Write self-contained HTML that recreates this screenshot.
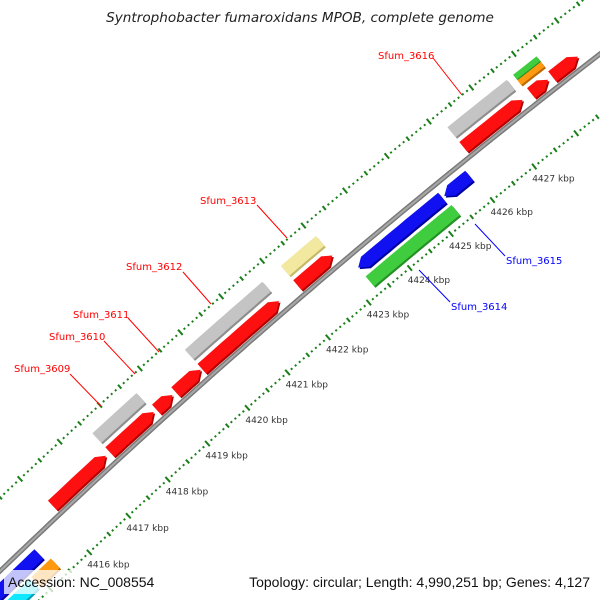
<!DOCTYPE html>
<html><head><meta charset="utf-8"><style>
html,body{margin:0;padding:0;background:#fff;width:600px;height:600px;overflow:hidden;}
svg{display:block;font-family:"DejaVu Sans","Liberation Sans",sans-serif;overflow:hidden;}
</style></head><body>
<svg id="map" width="600" height="600" viewBox="0 0 600 600" xmlns="http://www.w3.org/2000/svg">
<g id="ticks"></g>
<g id="backbone"></g>
<g id="genes"></g>
<g id="callouts">
<line x1="433" y1="58" x2="462" y2="95" stroke="#f00" stroke-width="1"/>
<text x="378" y="59" font-size="10" fill="#f00">Sfum_3616</text>
<line x1="257" y1="205" x2="287" y2="238" stroke="#f00" stroke-width="1"/>
<text x="200" y="204" font-size="10" fill="#f00">Sfum_3613</text>
<line x1="183" y1="272" x2="211" y2="304" stroke="#f00" stroke-width="1"/>
<text x="126" y="270" font-size="10" fill="#f00">Sfum_3612</text>
<line x1="128" y1="318" x2="159" y2="352" stroke="#f00" stroke-width="1"/>
<text x="73" y="318" font-size="10" fill="#f00">Sfum_3611</text>
<line x1="104" y1="341" x2="135" y2="374" stroke="#f00" stroke-width="1"/>
<text x="49" y="340" font-size="10" fill="#f00">Sfum_3610</text>
<line x1="70" y1="374" x2="101" y2="406" stroke="#f00" stroke-width="1"/>
<text x="14" y="372" font-size="10" fill="#f00">Sfum_3609</text>
<line x1="475" y1="224" x2="505" y2="256" stroke="#00f" stroke-width="1"/>
<text x="506" y="264" font-size="10" fill="#00f">Sfum_3615</text>
<line x1="419" y1="270" x2="450" y2="302" stroke="#00f" stroke-width="1"/>
<text x="451" y="310" font-size="10" fill="#00f">Sfum_3614</text>
</g>
<text x="300" y="22" font-size="13.6" font-style="italic" text-anchor="middle" fill="#222">Syntrophobacter fumaroxidans MPOB, complete genome</text>
<rect x="4" y="570" width="142" height="24" fill="#fff" fill-opacity="0.75"/>
<text x="8" y="587" font-size="14" fill="#111" font-family="Liberation Sans, sans-serif">Accession: NC_008554</text>
<text x="590" y="587" font-size="14" fill="#111" text-anchor="end" font-family="Liberation Sans, sans-serif">Topology: circular; Length: 4,990,251 bp; Genes: 4,127</text>
</svg>
<script>
// data
const tickLabels = [4416,4417,4418,4419,4420,4421,4422,4423,4424,4425,4426,4427];
const geneNames  = ["fwd-a","fwd-b","fwd-c","fwd-d","fwd-e","fwd-f","fwd-g","fwd-h","fwd-i",
  "cds-a","cds-b","cds-c","cds-d","cds-e","cds-f",
  "rev-a","rev-b","rev-c","rev-d","rev-e","rev-f"];
const geneStart  = [4416.1,4417.55,4418.72,4419.2,4419.85,4422.2,4426.2,4427.8,4428.3,
  4417.55,4419.85,4422.2,4426.2,4427.75,4427.75,
  4423.27,4425.35,4423.27,4413.0,4413.0,4414.9];
const geneEnd    = [4417.45,4418.65,4419.12,4419.82,4421.75,4423.05,4427.6,4428.2,4428.9,
  4418.65,4421.75,4423.05,4427.6,4428.3,4428.3,
  4425.3,4425.95,4425.35,4415.3,4414.85,4415.4];
const geneTrack  = ["fwd","fwd","fwd","fwd","fwd","fwd","fwd","fwd","fwd",
  "cds","cds","cds","cds","cdsHi","cdsLo",
  "rev","rev","revCds","rev","revCds","revCds"];
const geneArrow  = [1,1,1,1,1,1,1,1,1, 0,0,0,0,0,0, -1,-1,0,-1,0,0];
const geneColor  = ["red","red","red","red","red","red","red","red","red",
  "gray","gray","yellow","gray","green","orange",
  "blue","blue","green","blue","cyan","orange"];

// layout
const CX=4994, CY=5759, A0=-133.29, DEG=0.429, K0=4416;
const R_IN=7153, R_OUT=7254, R_BB=7201;
const tracks={fwd:[7206,7219],cds:[7225,7238],cdsHi:[7232,7238],cdsLo:[7225,7231],rev:[7180,7193],revCds:[7162,7175]};
const palette={red:["#ff1010","#b00000"],gray:["#c4c4c4","#8e8e8e"],yellow:["#f3e8a0","#c7b866"],
  green:["#3fcc3f","#249024"],orange:["#ff9a10","#c06800"],blue:["#1010f0","#0000a0"],cyan:["#10e8ff","#00a0b8"]};
const NS="http://www.w3.org/2000/svg";
function P(k,r){const a=(A0+DEG*(k-K0))*Math.PI/180;return [CX+r*Math.cos(a),CY+r*Math.sin(a)];}
function arcPts(k1,k2,r){const pts=[];const n=Math.max(2,Math.ceil(Math.abs(k2-k1)*6));for(let i=0;i<=n;i++){pts.push(P(k1+(k2-k1)*i/n,r));}return pts;}
function ptsStr(p){return p.map(q=>q[0].toFixed(1)+","+q[1].toFixed(1)).join(" ");}

// ticks
const tg=document.getElementById("ticks");
for(let i=4412*10;i<=4431*10;i++){
  const k=i/10; const major=(i%10===0), mid=(i%5===0);
  const len=major?7:(mid?5:2);
  [R_IN,R_OUT].forEach(r=>{
    const a=P(k,r-len/2), b=P(k,r+len/2);
    const l=document.createElementNS(NS,"line");
    l.setAttribute("x1",a[0]);l.setAttribute("y1",a[1]);l.setAttribute("x2",b[0]);l.setAttribute("y2",b[1]);
    l.setAttribute("stroke","#1a7f1a");l.setAttribute("stroke-width",2);
    
    
    tg.appendChild(l);
  });
}
tickLabels.forEach(k=>{
  const p=P(k,R_IN);
  const t=document.createElementNS(NS,"text");
  t.setAttribute("x",(p[0]-2).toFixed(1));t.setAttribute("y",(p[1]+15).toFixed(1));
  t.setAttribute("font-size","9");t.setAttribute("fill","#333");
  t.textContent=k+" kbp";
  
  
  tg.appendChild(t);
});

// backbone
const bg=document.getElementById("backbone");
[["#7a7a7a",5],["#a8a8a8",2]].forEach(s=>{
  const pl=document.createElementNS(NS,"polyline");
  pl.setAttribute("points",ptsStr(arcPts(4405,4435,R_BB)));
  pl.setAttribute("fill","none");pl.setAttribute("stroke",s[0]);pl.setAttribute("stroke-width",s[1]);
  
  
  bg.appendChild(pl);
});

// genes
const gg=document.getElementById("genes");
geneNames.forEach((nm,i)=>{
  const [r1,r2]=tracks[geneTrack[i]]; const rm=(r1+r2)/2;
  const k1=geneStart[i], k2=geneEnd[i]; const dir=geneArrow[i]; const head=0.17;
  let pts;
  if(dir===1){const kh=k2-head; pts=[...arcPts(k1,kh,r2),P(k2,rm),...arcPts(k1,kh,r1).reverse()];}
  else if(dir===-1){const kh=k1+head; pts=[P(k1,rm),...arcPts(kh,k2,r2),...arcPts(kh,k2,r1).reverse()];}
  else {pts=[...arcPts(k1,k2,r2),...arcPts(k1,k2,r1).reverse()];}
  const g=document.createElementNS(NS,"g");
  
  
  const c=palette[geneColor[i]];
  const shade=document.createElementNS(NS,"polygon");
  shade.setAttribute("points",ptsStr(pts));shade.setAttribute("fill",c[1]);
  shade.setAttribute("transform","translate(1.5,1.5)");
  
  
  g.appendChild(shade);
  const body=document.createElementNS(NS,"polygon");
  body.setAttribute("points",ptsStr(pts));body.setAttribute("fill",c[0]);
  
  
  g.appendChild(body);
  gg.appendChild(g);
});
</script>
</body></html>
